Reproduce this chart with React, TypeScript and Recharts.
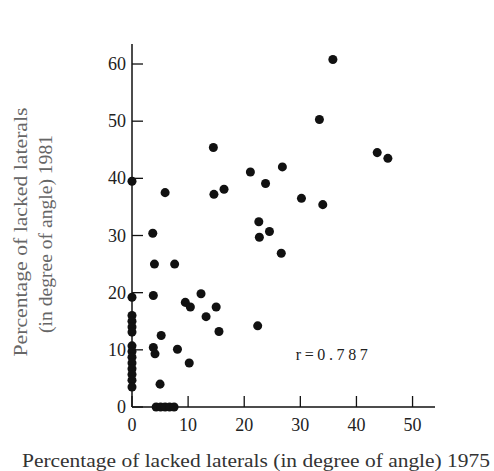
import { Label, ReferenceDot, Scatter, ScatterChart, XAxis, YAxis, ZAxis } from "recharts";

// readings: 1975 value (x) vs 1981 value (y)
const x1975 = [
  0, 0, 0, 0, 0, 0, 0, 0, 0, 0, 0, 0, 0, 0,
  3.7, 4.0, 7.6, 3.8, 5.9,
  14.5, 14.6, 16.4, 21.1, 23.8, 26.8, 30.2, 34.0,
  22.6, 24.5, 22.7, 26.6,
  35.8, 33.4, 43.7, 45.6,
  9.5, 10.4, 12.3, 15.0, 13.2, 15.5, 22.4,
  5.2, 3.8, 4.1, 8.1, 10.2, 5.0,
  4.3, 5.1, 5.9, 6.7, 7.5,
];
const y1981 = [
  39.5, 19.2, 16.0, 15.0, 14.0, 13.1, 10.7, 9.7, 8.7, 7.7, 6.7, 5.7, 4.7, 3.5,
  30.4, 25.0, 25.0, 19.5, 37.5,
  45.4, 37.2, 38.1, 41.1, 39.1, 42.0, 36.5, 35.4,
  32.4, 30.7, 29.7, 26.9,
  60.8, 50.3, 44.5, 43.5,
  18.3, 17.5, 19.8, 17.5, 15.8, 13.2, 14.2,
  12.5, 10.4, 9.3, 10.1, 7.7, 4.0,
  0, 0, 0, 0, 0,
];
const xTicks = [0, 10, 20, 30, 40, 50];
const yTicks = [0, 10, 20, 30, 40, 50, 60];
const rValue = "r=0.787";

const points = x1975.map((x, i) => ({ x, y: y1981[i] }));

const FONT = '"Liberation Serif", "Times New Roman", serif';

function XTick(props: any) {
  const { x, y, payload } = props;
  return (
    <g>
      <line x1={x} y1={y} x2={x} y2={y - 11} stroke="#111" strokeWidth={1.3} />
      <text x={x} y={y + 24} textAnchor="middle" style={{ fontSize: 18, fontFamily: FONT }} fill="#222">
        {payload.value}
      </text>
    </g>
  );
}

function YTick(props: any) {
  const { x, y, payload } = props;
  return (
    <g>
      <line x1={x} y1={y} x2={x + 11} y2={y} stroke="#111" strokeWidth={1.3} />
      <text x={x - 6} y={y + 6} textAnchor="end" style={{ fontSize: 18, fontFamily: FONT }} fill="#222">
        {payload.value}
      </text>
    </g>
  );
}

export default function App() {
  return (
    <div style={{ position: "absolute", left: 0, top: 0, width: 494, height: 471, background: "#fff" }}>
      <ScatterChart width={494} height={471} margin={{ top: 44, right: 59, bottom: 0, left: 0 }}>
        <XAxis
          type="number"
          dataKey="x"
          domain={[0, 54]}
          ticks={xTicks}
          height={64}
          tickSize={0}
          tickMargin={0}
          tickLine={false}
          tick={<XTick />}
          axisLine={{ stroke: "#111", strokeWidth: 1.5 }}
        >
          <Label
            content={() => (
              <text
                x={22}
                y={467}
                style={{ fontSize: 19, fontFamily: FONT }}
                fill="#333"
                textLength={468}
                lengthAdjust="spacingAndGlyphs"
              >
                Percentage of lacked laterals (in degree of angle) 1975
              </text>
            )}
          />
        </XAxis>
        <YAxis
          type="number"
          dataKey="y"
          domain={[0, 63.5]}
          ticks={yTicks}
          width={132}
          tickSize={0}
          tickMargin={0}
          tickLine={false}
          tick={<YTick />}
          axisLine={{ stroke: "#111", strokeWidth: 1.5 }}
        >
          <Label
            content={() => (
              <g style={{ fontSize: 18, fontFamily: FONT }} fill="#666">
                <text x={27} y={232} textAnchor="middle" transform="rotate(-90 27 232)" textLength={249} lengthAdjust="spacingAndGlyphs">
                  Percentage of lacked laterals
                </text>
                <text x={52} y={234} textAnchor="middle" transform="rotate(-90 52 234)" textLength={198} lengthAdjust="spacingAndGlyphs">
                  (in degree of angle) 1981
                </text>
              </g>
            )}
          />
        </YAxis>
        <ZAxis range={[60, 60]} />
        <ReferenceDot
          x={35.6}
          y={9.3}
          r={0}
          stroke="none"
          fill="none"
          label={{ value: rValue, fontSize: 16, fontFamily: FONT, fill: "#222", textLength: 72 } as any}
        />
        <Scatter data={points} fill="#111" isAnimationActive={false} />
      </ScatterChart>
    </div>
  );
}
